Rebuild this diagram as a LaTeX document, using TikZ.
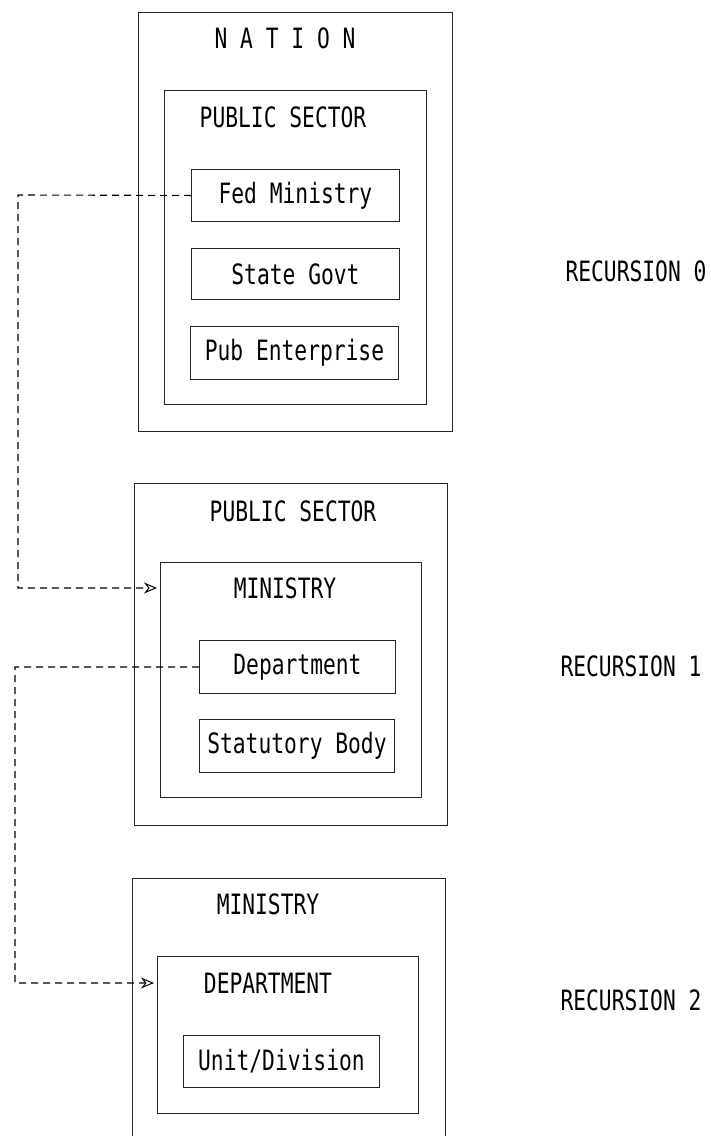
\documentclass[tikz,border=0pt]{standalone}
\usepackage{fontspec}
\newfontfamily\plotfont[FakeStretch=0.76]{DejaVu Sans Mono}
\usetikzlibrary{arrows.meta}
\begin{document}
\begin{tikzpicture}[x=1pt,y=-1pt,
  every node/.style={font=\plotfont\fontsize{28}{30}\selectfont, inner sep=0pt, text=black},
  frame/.style={draw=black!85, line width=0.9pt, anchor=north west},
  link/.style={draw=black, line width=1.1pt, dash pattern=on 7pt off 5pt},
  tip/.style={-{Stealth[length=13pt,width=11pt,open,line width=1pt]}, shorten >=3pt}
  ]
\clip (0,0) rectangle (711,1136);
\fill[white] (0,0) rectangle (711,1136);

% Recursion 0
\node[frame, minimum width=314pt, minimum height=419pt] (nation) at (138,12) {};
\node[frame, minimum width=262pt, minimum height=314pt] (ps0) at (164,90) {};
\node[frame, minimum width=208pt, minimum height=52pt] (fed) at (191,169) {Fed Ministry};
\node[frame, minimum width=208pt, minimum height=51pt] (state) at (191,248) {State Govt};
\node[frame, minimum width=208pt, minimum height=53pt] (pub) at (190,326) {Pub Enterprise};
\node (nationt) at (285,38) {N A T I O N};
\node (ps0t) at (283,117) {PUBLIC SECTOR};

% Recursion 1
\node[frame, minimum width=313pt, minimum height=342pt] (ps1) at (134,483) {};
\node[frame, minimum width=261pt, minimum height=235pt] (min1) at (160,562) {};
\node[frame, minimum width=196pt, minimum height=53pt] (dept) at (199,640) {Department};
\node[frame, minimum width=195pt, minimum height=53pt] (stat) at (199,719) {Statutory Body};
\node (ps1t) at (293,511) {PUBLIC SECTOR};
\node (min1t) at (285,588) {MINISTRY};

% Recursion 2
\node[frame, minimum width=313pt, minimum height=272pt] (min2) at (132,878) {};
\node[frame, minimum width=261pt, minimum height=157pt] (dep2) at (157,956) {};
\node[frame, minimum width=196pt, minimum height=52pt] (unit) at (183,1035) {Unit/Division};
\node (min2t) at (268,904) {MINISTRY};
\node (dep2t) at (268,983) {DEPARTMENT};

% labels
\node (r0) at (636,271) {RECURSION 0};
\node (r1) at (631,666) {RECURSION 1};
\node (r2) at (631,1000) {RECURSION 2};

% connectors
\coordinate (c1a) at (18,195);
\coordinate (c1b) at (18,588);
\draw[link, tip] (fed.west) -- (c1a) -- (c1b) -- (min1.west |- c1b);
\coordinate (c2a) at (15,667);
\coordinate (c2b) at (15,983);
\draw[link, tip] (dept.west) -- (c2a) -- (c2b) -- (dep2.west |- c2b);
\end{tikzpicture}
\end{document}
